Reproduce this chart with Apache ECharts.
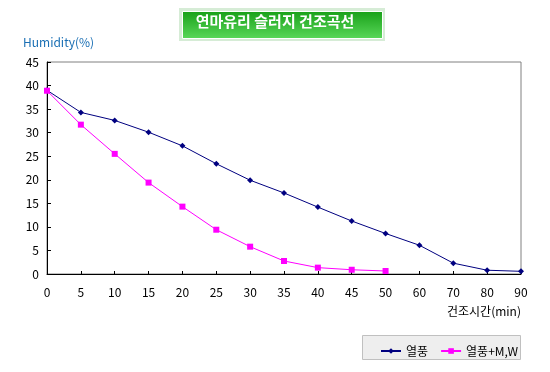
<!DOCTYPE html>
<html><head><meta charset="utf-8">
<script src="https://cdn.jsdelivr.net/npm/echarts@6/dist/echarts.min.js"></script>
<style>html,body{margin:0;padding:0;background:#fff}#c{width:550px;height:372px}</style>
</head><body><div id="c"></div>
<script>
var categories = ['0','5','10','15','20','25','30','35','40','45','50','60','70','80','90'];
var hotAir = [39.0, 34.3, 32.6, 30.1, 27.2, 23.4, 19.9, 17.2, 14.2, 11.25, 8.6, 6.1, 2.3, 0.8, 0.57];
var hotAirMW = [38.9, 31.7, 25.5, 19.4, 14.3, 9.4, 5.8, 2.76, 1.35, 0.9, 0.64];
var seriesNames = ['열풍', '열풍+M,W'];
var titleText = '연마유리 슬러지 건조곡선';
var yName = 'Humidity(%)';
var xName = '건조시간(min)';

var font = '"Noto Sans CJK KR", "DejaVu Sans", sans-serif';
var chart = echarts.init(document.getElementById('c'));
chart.setOption({
  animation: false,
  backgroundColor: '#fff',
  textStyle: {fontFamily: font},
  graphic: [
    {type: 'rect', left: 179, top: 8, shape: {width: 206, height: 33},
     style: {fill: '#d6ecd6', stroke: null}},
    {type: 'rect', left: 182, top: 11, shape: {width: 200, height: 27},
     style: {fill: new echarts.graphic.LinearGradient(0, 0, 0, 1, [
        {offset: 0, color: '#18a018'}, {offset: 1, color: '#5ad85a'}]),
       stroke: '#ffffff', lineWidth: 1}},
    {type: 'text', left: 'center', top: 14, z: 10,
     style: {text: titleText, fill: '#fff', font: 'bold 15px ' + font}},
    {type: 'rect', left: 362, top: 335, shape: {width: 158, height: 24},
     style: {fill: '#eeeeee', stroke: '#c0c0c0', lineWidth: 1}}
  ],
  legend: {
    data: seriesNames, left: 375, top: 340, itemWidth: 20, itemHeight: 7, itemGap: 12,
    textStyle: {fontSize: 12, color: '#000', fontFamily: font}
  },
  grid: {left: 47, right: 29, top: 62, bottom: 98, show: true, borderColor: '#808080', borderWidth: 1, containLabel: false},
  xAxis: {
    type: 'category', data: categories, boundaryGap: false,
    name: xName, nameLocation: 'end', nameGap: 0,
    nameTextStyle: {fontSize: 12, color: '#000', align: 'right', verticalAlign: 'top', padding: [31, 0, 0, 0]},
    axisLine: {lineStyle: {color: '#000', width: 1}},
    axisTick: {inside: true, length: 3, lineStyle: {color: '#000'}, alignWithLabel: true},
    axisLabel: {fontSize: 12, color: '#000', margin: 12},
    splitLine: {show: false}
  },
  yAxis: {
    type: 'value', min: 0, max: 45, interval: 5,
    name: yName, nameLocation: 'end', nameGap: 0,
    nameTextStyle: {fontSize: 12, color: '#1a6fb4', align: 'left', padding: [0, 0, 14, -24]},
    axisLine: {show: true, lineStyle: {color: '#000', width: 1}},
    axisTick: {show: true, inside: true, length: 4, lineStyle: {color: '#000'}},
    axisLabel: {fontSize: 12, color: '#000', margin: 8},
    splitLine: {show: false}
  },
  series: [
    {name: seriesNames[0], type: 'line', data: hotAir, symbol: 'diamond', symbolSize: 6,
     itemStyle: {color: '#000080'}, lineStyle: {color: '#000080', width: 1}, z: 2},
    {name: seriesNames[1], type: 'line', data: hotAirMW, symbol: 'rect', symbolSize: 6,
     itemStyle: {color: '#ff00ff'}, lineStyle: {color: '#ff00ff', width: 1}, z: 3}
  ]
});
</script></body></html>
